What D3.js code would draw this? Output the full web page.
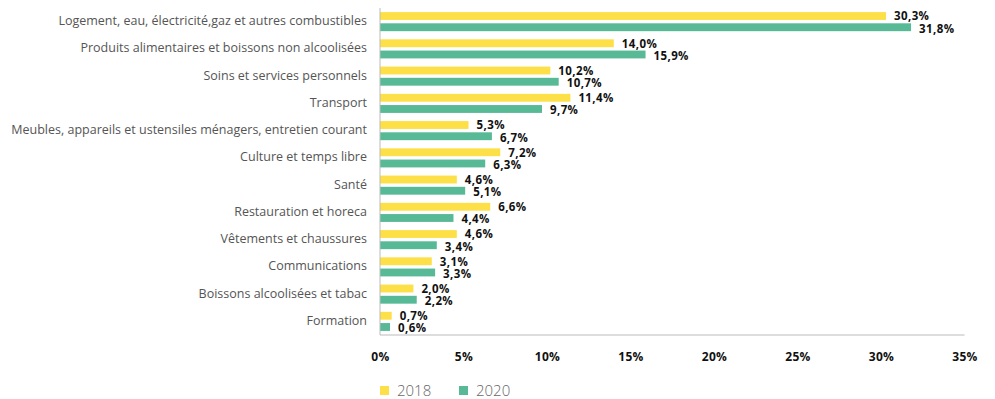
<!DOCTYPE html>
<html>
<head>
<meta charset="utf-8">
<script src="https://cdn.jsdelivr.net/npm/d3@7"></script>
<style>
  html, body { margin: 0; padding: 0; background: #fff; }
  svg { display: block; font-family: "Open Sans", "Noto Sans", sans-serif; }
</style>
</head>
<body>
<svg id="chart" width="995" height="399"></svg>
<script>
// Budget shares by spending category, 2018 vs 2020 (in %)
const categories = [
  "Logement, eau, électricité,gaz et autres combustibles",
  "Produits alimentaires et boissons non alcoolisées",
  "Soins et services personnels",
  "Transport",
  "Meubles, appareils et ustensiles ménagers, entretien courant",
  "Culture et temps libre",
  "Santé",
  "Restauration et horeca",
  "Vêtements et chaussures",
  "Communications",
  "Boissons alcoolisées et tabac",
  "Formation"
];
const values2018 = [30.3, 14.0, 10.2, 11.4, 5.3, 7.2, 4.6, 6.6, 4.6, 3.1, 2.0, 0.7];
const values2020 = [31.8, 15.9, 10.7, 9.7, 6.7, 6.3, 5.1, 4.4, 3.4, 3.3, 2.2, 0.6];
const seriesNames = ["2018", "2020"];
const xTicks = [0, 5, 10, 15, 20, 25, 30, 35];

const colors = { "2018": "#FDE047", "2020": "#58B996" };
const fmt = v => d3.format(".1f")(v).replace(".", ",") + "%";

const svg = d3.select("#chart");
const plotLeft = 380, plotRight = 964.5, plotTop = 8, plotBottom = 335;

const x = d3.scaleLinear().domain([0, 35]).range([plotLeft, plotRight]);
const y = d3.scaleBand().domain(categories).range([plotTop, plotBottom]).paddingInner(0.3).paddingOuter(0.15);
const ySub = d3.scaleBand().domain(seriesNames).range([0, y.bandwidth()]).paddingInner(0.3);

const rows = categories.map((c, i) => ({ cat: c, vals: [
  { s: "2018", v: values2018[i] },
  { s: "2020", v: values2020[i] }
]}));

// bars
const g = svg.append("g");
const row = g.selectAll("g.row").data(rows).join("g")
  .attr("class", "row")
  .attr("transform", d => `translate(0,${y(d.cat)})`);

row.selectAll("rect").data(d => d.vals).join("rect")
  .attr("x", x(0))
  .attr("y", d => ySub(d.s))
  .attr("width", d => x(d.v) - x(0))
  .attr("height", ySub.bandwidth())
  .attr("fill", d => colors[d.s]);

// value labels, nudged apart so the pair sits just beside each bar
row.selectAll("text.val").data(d => d.vals).join("text")
  .attr("class", "val")
  .attr("x", d => x(d.v) + 8)
  .attr("y", d => ySub(d.s) + ySub.bandwidth() / 2 + (d.s === "2018" ? 0.5 : 1.5))
  .attr("dy", "0.33em")
  .attr("font-size", 11.5)
  .attr("font-weight", 700)
  .attr("letter-spacing", 0.4)
  .attr("fill", "#111")
  .text(d => fmt(d.v));

// category labels
const yAxis = d3.axisLeft(y).tickSize(0).tickPadding(13);
svg.append("g")
  .attr("transform", `translate(${plotLeft},0)`)
  .call(yAxis)
  .call(a => a.select(".domain").remove())
  .selectAll("text")
  .attr("font-size", 12.5)
  .attr("font-family", "\"Open Sans\", sans-serif")
  .attr("fill", "#555")
  .attr("dy", "0.28em");

// axis lines
svg.append("line")
  .attr("x1", plotLeft).attr("x2", plotLeft)
  .attr("y1", plotTop).attr("y2", plotBottom)
  .attr("stroke", "#bbb").attr("stroke-width", 1);
svg.append("line")
  .attr("x1", plotLeft).attr("x2", plotRight)
  .attr("y1", plotBottom).attr("y2", plotBottom)
  .attr("stroke", "#bbb").attr("stroke-width", 1);

// x tick labels
const xAxis = d3.axisBottom(x).tickValues(xTicks).tickSize(0).tickPadding(17).tickFormat(d => d + "%");
svg.append("g")
  .attr("transform", `translate(0,${plotBottom})`)
  .call(xAxis)
  .call(a => a.select(".domain").remove())
  .selectAll("text")
  .attr("font-size", 12)
  .attr("font-weight", 700)
  .attr("letter-spacing", 0.3)
  .attr("font-family", "\"Open Sans\", sans-serif")
  .attr("fill", "#111");

// legend
const legend = svg.append("g").attr("transform", "translate(380,386)");
const legendX = d3.scaleOrdinal().domain(seriesNames).range([0, 79]);
const li = legend.selectAll("g").data(seriesNames).join("g")
  .attr("transform", d => `translate(${legendX(d)},0)`);
li.append("rect").attr("width", 9).attr("height", 9).attr("fill", d => colors[d]);
li.append("text")
  .attr("x", 17).attr("y", 5).attr("dy", "0.36em")
  .attr("font-size", 15)
  .attr("font-weight", 300)
  .attr("fill", "#666")
  .text(d => d);
</script>
</body>
</html>
